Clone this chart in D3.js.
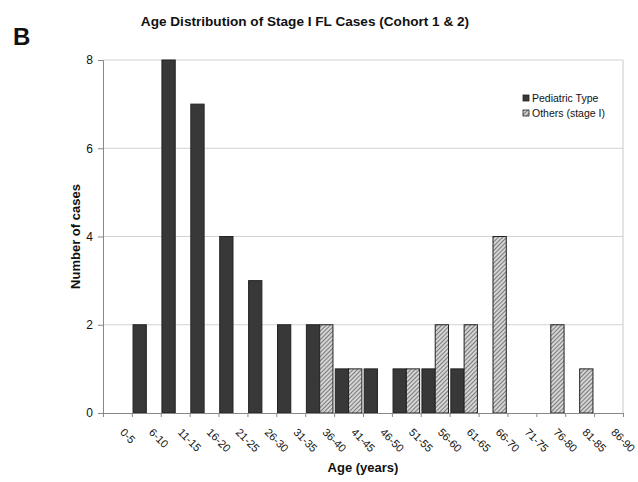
<!DOCTYPE html>
<html>
<head>
<meta charset="utf-8">
<script src="https://cdn.jsdelivr.net/npm/d3@7"></script>
<style>
  body { margin: 0; background: #fff; }
  text { font-family: "Liberation Sans", Arial, sans-serif; }
</style>
</head>
<body>
<div id="chart"></div>
<script>
const width = 638;
const height = 482;

const ageGroups = ["0-5", "6-10", "11-15", "16-20", "21-25", "26-30", "31-35", "36-40", "41-45",
	"46-50", "51-55", "56-60", "61-65", "66-70", "71-75", "76-80", "81-85", "86-90"];
const pediatric = [0, 2, 8, 7, 4, 3, 2, 2, 1, 1, 1, 1, 1, 0, 0, 0, 0, 0];
const others = [0, 0, 0, 0, 0, 0, 0, 2, 1, 0, 1, 2, 2, 4, 0, 2, 1, 0];
const seriesNames = ["Pediatric Type", "Others (stage I)"];
const yTicks = [0, 2, 4, 6, 8];

const margin = {top: 60, right: 15, bottom: 69, left: 103};
const plotW = width - margin.left - margin.right;
const plotH = height - margin.top - margin.bottom;

const svg = d3.select("#chart")
	.append("svg")
	.attr("width", width)
	.attr("height", height);

const defs = svg.append("defs");
const pat = defs.append("pattern")
	.attr("id", "hatch")
	.attr("patternUnits", "userSpaceOnUse")
	.attr("width", 3)
	.attr("height", 3)
	.attr("patternTransform", "rotate(45)");
pat.append("rect").attr("width", 3).attr("height", 3).attr("fill", "#d4d4d4");
pat.append("line").attr("x1", 0).attr("y1", 0).attr("x2", 0).attr("y2", 3)
	.attr("stroke", "#555").attr("stroke-width", 1.4);

const g = svg.append("g")
	.attr("transform", `translate(${margin.left},${margin.top})`);

const x = d3.scaleBand()
	.domain(ageGroups)
	.range([0, plotW])
	.paddingInner(0.08)
	.paddingOuter(0.04);

const xEdge = d3.scaleLinear()
	.domain([0, ageGroups.length])
	.range([0, plotW]);

const sub = d3.scaleBand()
	.domain(seriesNames)
	.range([0, x.bandwidth()]);

const y = d3.scaleLinear()
	.domain([0, 8])
	.range([plotH, 0]);

// gridlines
g.selectAll(".grid")
	.data(yTicks.slice(1))
	.enter()
	.append("line")
	.attr("x1", 0)
	.attr("x2", plotW)
	.attr("y1", d => y(d))
	.attr("y2", d => y(d))
	.attr("stroke", "#d2d2d2");

// right border
g.append("line")
	.attr("x1", plotW).attr("x2", plotW)
	.attr("y1", 0).attr("y2", plotH)
	.attr("stroke", "#c8c8c8");

const data = ageGroups.map((a, i) => ({age: a, values: [pediatric[i], others[i]]}));

const groups = g.selectAll(".grp")
	.data(data)
	.enter()
	.append("g")
	.attr("transform", d => `translate(${x(d.age)},0)`);

groups.selectAll("rect")
	.data(d => d.values.map((v, j) => ({name: seriesNames[j], v: v})).filter(e => e.v > 0))
	.enter()
	.append("rect")
	.attr("x", d => sub(d.name))
	.attr("width", sub.bandwidth())
	.attr("y", d => y(d.v))
	.attr("height", d => plotH - y(d.v))
	.attr("fill", d => d.name === seriesNames[0] ? "#383838" : "url(#hatch)")
	.attr("stroke", "#222")
	.attr("stroke-width", 1);

// y axis
const yAxis = g.append("g")
	.call(d3.axisLeft(y).tickValues(yTicks).tickSize(5).tickPadding(5));
yAxis.select(".domain").attr("stroke", "#888");
yAxis.selectAll(".tick line").attr("stroke", "#888");
yAxis.selectAll(".tick text")
	.attr("font-size", 12)
	.attr("fill", "#111")
	.style("font-family", "Liberation Sans, Arial, sans-serif");

// x axis
const xAxis = g.append("g")
	.attr("transform", `translate(0,${plotH})`)
	.call(d3.axisBottom(xEdge).ticks(ageGroups.length).tickSize(4).tickFormat(""));
xAxis.select(".domain").attr("stroke", "#888");
xAxis.selectAll(".tick line").attr("stroke", "#888");

g.selectAll(".xlab")
	.data(ageGroups)
	.enter()
	.append("text")
	.attr("transform", d => `translate(${x(d) + x.bandwidth() / 2 + 2},${plotH + 20}) rotate(45)`)
	.attr("font-size", 11)
	.attr("fill", "#111")
	.text(d => d);

// titles
svg.append("text")
	.attr("x", 305)
	.attr("y", 26)
	.attr("text-anchor", "middle")
	.attr("font-size", 13.6)
	.attr("font-weight", "bold")
	.attr("fill", "#111")
	.text("Age Distribution of Stage I FL Cases (Cohort 1 & 2)");

svg.append("text")
	.attr("x", 13)
	.attr("y", 45)
	.attr("font-size", 24)
	.attr("font-weight", "bold")
	.attr("fill", "#111")
	.text("B");

svg.append("text")
	.attr("x", margin.left + plotW / 2)
	.attr("y", 472)
	.attr("text-anchor", "middle")
	.attr("font-size", 13)
	.attr("font-weight", "bold")
	.attr("fill", "#111")
	.text("Age (years)");

svg.append("text")
	.attr("transform", `translate(80,${margin.top + plotH / 2}) rotate(-90)`)
	.attr("text-anchor", "middle")
	.attr("font-size", 13)
	.attr("font-weight", "bold")
	.attr("fill", "#111")
	.text("Number of cases");

// legend
const legend = svg.append("g")
	.attr("transform", "translate(523,95)");
const li = legend.selectAll("g")
	.data(seriesNames)
	.enter()
	.append("g")
	.attr("transform", (d, i) => `translate(0,${i * 15})`);
li.append("rect")
	.attr("width", 6)
	.attr("height", 6)
	.attr("fill", (d, i) => i === 0 ? "#383838" : "url(#hatch)")
	.attr("stroke", "#222")
	.attr("stroke-width", 0.8);
li.append("text")
	.attr("x", 9)
	.attr("y", 6.5)
	.attr("font-size", 10.5)
	.attr("fill", "#111")
	.text(d => d);
</script>
</body>
</html>
